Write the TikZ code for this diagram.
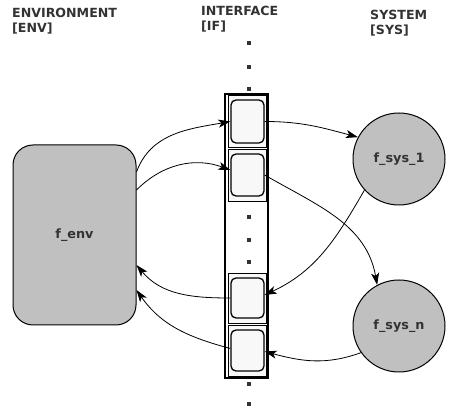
\documentclass[tikz,border=0pt]{standalone}
\usepackage{fontspec}
\setmainfont{DejaVu Sans}
\usetikzlibrary{arrows.meta,calc}
\definecolor{txt}{HTML}{333333}
\definecolor{fillg}{HTML}{C0C0C0}
\definecolor{cellf}{HTML}{F8F8F8}
\tikzset{
  head/.style={anchor=north west,align=left,text=txt,font=\bfseries\fontsize{12.6}{15}\selectfont,inner sep=0pt},
  lbl/.style={text=txt,font=\bfseries\fontsize{12.8}{15}\selectfont},
  cellbox/.style={draw=black,line width=0.8pt,fill=cellf},
  inner/.style={draw=black,line width=1.3pt,rounded corners=5pt,fill=cellf},
  conn/.style={line width=0.8pt,-{Stealth[length=12pt,width=8pt,inset=3pt]}},
  dot/.style={fill=txt,minimum size=3.2pt,inner sep=0pt,draw=none}
}
\begin{document}
\begin{tikzpicture}[x=1pt,y=-1pt]
\useasboundingbox (0,0) rectangle (459,414);
% headers
\node[head] (henv) at (12,8) {ENVIRONMENT\\{}[ENV]};
\node[head] (hif) at (201,6) {INTERFACE\\{}[IF]};
\node[head] (hsys) at (370,10) {SYSTEM\\{}[SYS]};
% column
\draw[line width=1.4pt,fill=white] (225,94) rectangle (268,378);
% cells
\draw[cellbox] (228,95) rectangle (266,147);
\draw[cellbox] (228,149) rectangle (266,201);
\draw[cellbox] (228,273) rectangle (266,323);
\draw[cellbox] (228,325) rectangle (266,376);
\node[inner,minimum width=33pt,minimum height=43pt] (c1) at (247.5,121.5) {};
\node[inner,minimum width=33pt,minimum height=42pt] (c2) at (247.5,175) {};
\node[inner,minimum width=33pt,minimum height=40pt] (c3) at (247.5,298) {};
\node[inner,minimum width=33pt,minimum height=41pt] (c4) at (247.5,350.5) {};
% dots
\foreach \y [count=\i] in {43,67,89,217,240,262,384,404}
  \node[dot] (d\i) at (249,\y) {};
% env
\node[draw=black,line width=1pt,fill=fillg,rounded corners=20pt,minimum width=123pt,minimum height=180pt,lbl] (env) at (74.5,235) {f\_env};
% systems
\node[circle,draw=black,line width=1pt,fill=fillg,minimum size=92pt,inner sep=0pt,lbl] (s1) at (399,159) {f\_sys\_1};
\node[circle,draw=black,line width=1pt,fill=fillg,minimum size=92pt,inner sep=0pt,lbl] (sn) at (399,326) {f\_sys\_n};
% connectors
\draw[conn] ($(env.east)+(0,-63)$) to[out=70,in=190] (c1.west);
\draw[conn] ($(env.east)+(0,-45)$) to[out=45,in=160] ($(c2.west)+(0,-5)$);
\draw[conn] (c1.east) to[out=0,in=165] (s1.152);
\draw[conn] (c2.east) to[out=-30,in=100] (sn.118);
\draw[conn] (s1.222) to[out=240,in=25] ($(c3.east)+(0,-3)$);
\draw[conn] (sn.215) to[out=200,in=-15] ($(c4.east)+(0,1)$);
\draw[conn] (c3.west) to[out=180,in=-50] ($(env.east)+(0,30)$);
\draw[conn] ($(c4.west)+(0,-2)$) to[out=165,in=-55] ($(env.east)+(0,55)$);
\end{tikzpicture}
\end{document}
